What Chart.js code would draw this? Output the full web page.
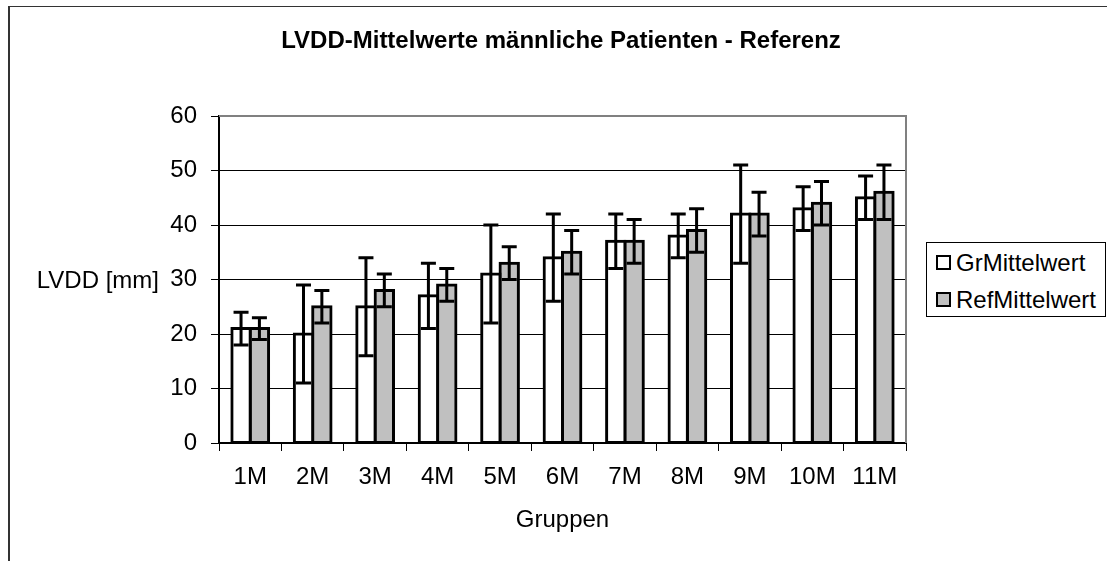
<!DOCTYPE html>
<html lang="de">
<head>
  <meta charset="UTF-8" />
  <title>LVDD-Mittelwerte männliche Patienten - Referenz</title>
  <script src="https://cdn.jsdelivr.net/npm/chart.js"></script>
  <style>
    body {
      margin: 0;
      background: #fff;
      font-family: 'Liberation Sans', Arial, sans-serif;
      color: #000;
    }
    .wrap {
      position: relative;
      width: 1107px;
      height: 561px;
      overflow: hidden;
    }
    .frame {
      position: absolute;
      left: 8px;
      top: 6px;
      width: 1300px;
      height: 800px;
      border-left: 2px solid #333;
      border-top: 1px solid #333;
    }
    canvas {
      position: absolute;
      left: 0;
      top: 0;
    }
    .title {
      position: absolute;
      left: 0;
      top: 26px;
      width: 1122px;
      text-align: center;
      font-size: 24px;
      font-weight: bold;
      line-height: 28px;
      white-space: nowrap;
    }
    .ylabel {
      position: absolute;
      right: 948px;
      top: 266px;
      height: 28px;
      line-height: 28px;
      font-size: 24px;
      white-space: nowrap;
    }
    .legend {
      position: absolute;
      left: 926px;
      top: 242px;
      width: 180px;
      height: 75px;
      box-sizing: border-box;
      border: 1px solid #000;
      padding-top: 1px;
      background: #fff;
    }
    .legend .item {
      height: 37px;
      display: flex;
      align-items: center;
      font-size: 24px;
    }
    .legend .sw {
      width: 11px;
      height: 11px;
      border: 2px solid #000;
      margin-left: 9px;
      margin-right: 5px;
    }
  </style>
</head>
<body>
<div class="wrap">
  <div class="frame"></div>
  <canvas id="chart" width="1107" height="561"></canvas>
  <div class="title">LVDD-Mittelwerte männliche Patienten - Referenz</div>
  <div class="ylabel">LVDD [mm]</div>
  <div class="legend" id="legend"></div>
</div>

<script>
// values
const groups = ["1M", "2M", "3M", "4M", "5M", "6M", "7M", "8M", "9M", "10M", "11M"];
const grMittel = [21, 20, 25, 27, 31, 34, 37, 38, 42, 43, 45];
const grFehler = [3, 9, 9, 6, 9, 8, 5, 4, 9, 4, 4];
const refMittel = [21, 25, 28, 29, 33, 35, 37, 39, 42, 44, 46];
const refFehler = [2, 3, 3, 3, 3, 4, 4, 4, 4, 4, 5];

const FONT = "'Liberation Sans', Arial, sans-serif";

// error bars (+/-) drawn over the bars
const errorBars = {
  id: "errorBars",
  afterDatasetsDraw(chart) {
    const ctx = chart.ctx;
    const y = chart.scales.y;
    chart.data.datasets.forEach((ds, i) => {
      chart.getDatasetMeta(i).data.forEach((bar, j) => {
        const v = ds.data[j], e = ds.errors[j];
        const top = y.getPixelForValue(v + e);
        const bot = y.getPixelForValue(v - e);
        ctx.save();
        ctx.strokeStyle = "#000";
        ctx.lineWidth = 3;
        ctx.beginPath();
        ctx.moveTo(bar.x, top); ctx.lineTo(bar.x, bot);
        ctx.moveTo(bar.x - 7.5, top); ctx.lineTo(bar.x + 7.5, top);
        ctx.moveTo(bar.x - 7.5, bot); ctx.lineTo(bar.x + 7.5, bot);
        ctx.stroke();
        ctx.restore();
      });
    });
  }
};

// grey plot-area frame
const plotFrame = {
  id: "plotFrame",
  beforeDatasetsDraw(chart) {
    const { ctx, chartArea: a } = chart;
    ctx.save();
    ctx.strokeStyle = "#808080";
    ctx.lineWidth = 2;
    ctx.beginPath();
    ctx.moveTo(a.left, a.top);
    ctx.lineTo(a.right, a.top);
    ctx.lineTo(a.right, a.bottom);
    ctx.stroke();
    ctx.restore();
  }
};

const datasets = [
  {
    label: "GrMittelwert",
    data: grMittel,
    errors: grFehler,
    backgroundColor: "#ffffff",
    borderColor: "#000",
    borderWidth: 3,
    inflateAmount: 1.5,
    borderSkipped: false
  },
  {
    label: "RefMittelwert",
    data: refMittel,
    errors: refFehler,
    backgroundColor: "#c0c0c0",
    borderColor: "#000",
    borderWidth: 3,
    inflateAmount: 1.5,
    borderSkipped: false
  }
];

new Chart(document.getElementById("chart"), {
  type: "bar",
  data: { labels: groups, datasets: datasets },
  plugins: [plotFrame, errorBars],
  options: {
    responsive: false,
    animation: false,
    categoryPercentage: 0.588,
    barPercentage: 1,
    layout: { padding: { top: 116, right: 201, bottom: 0, left: 0 } },
    plugins: {
      legend: { display: false },
      tooltip: { enabled: false },
      title: { display: false }
    },
    scales: {
      x: {
        afterFit(s) { s.height = 118; },
        grid: { drawOnChartArea: false, drawTicks: true, tickLength: 8, color: "#000", offset: true },
        border: { display: true, color: "#000", width: 2 },
        ticks: { color: "#000", padding: 12, font: { family: FONT, size: 24 } },
        title: {
          display: true,
          text: "Gruppen",
          color: "#000",
          font: { family: FONT, size: 24 },
          padding: { top: 0, bottom: 26 }
        }
      },
      y: {
        min: 0,
        max: 60,
        afterFit(s) { s.width = 219; },
        grid: { color: "#000", lineWidth: 1, drawTicks: true, tickLength: 8 },
        border: { display: true, color: "#000", width: 2 },
        ticks: { stepSize: 10, color: "#000", padding: 14, font: { family: FONT, size: 24 } }
      }
    }
  }
});

// legend box
const legend = document.getElementById("legend");
datasets.forEach(ds => {
  const item = document.createElement("div");
  item.className = "item";
  const sw = document.createElement("span");
  sw.className = "sw";
  sw.style.background = ds.backgroundColor;
  item.appendChild(sw);
  item.appendChild(document.createTextNode(ds.label));
  legend.appendChild(item);
});
</script>
</body>
</html>
